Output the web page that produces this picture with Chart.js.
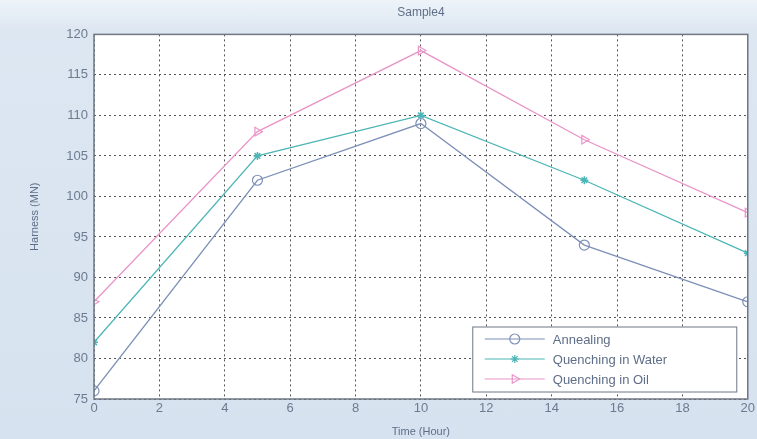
<!DOCTYPE html>
<html>
<head>
<meta charset="utf-8">
<script src="https://cdn.jsdelivr.net/npm/chart.js@4"></script>
<style>
  html, body { margin: 0; padding: 0; }
  body { width: 757px; height: 439px; background: linear-gradient(#eef3f9 0px, #dde7f2 30px, #d6e2ef 439px); }
  #wrap { position: relative; width: 757px; height: 439px; }
</style>
</head>
<body>
<div id="wrap"><canvas id="hardnessChart" width="757" height="439"></canvas></div>
<script>
const timeHours = [0, 5, 10, 15, 20];
const annealing = [76, 102, 109, 94, 87];
const quenchWater = [82, 105, 110, 102, 93];
const quenchOil = [87, 108, 118, 107, 98];
const seriesNames = ["Annealing", "Quenching in Water", "Quenching in Oil"];

const colAnneal = "#7d90b8";
const colWater = "#4db5b5";
const colOil = "#e995c8";
const textCol = "#5f6e88";
const fontFam = "'Liberation Sans', Arial, sans-serif";

function toPoints(vals) {
  return vals.map((v, i) => ({ x: timeHours[i], y: v }));
}

// fondo blanco del area de trazado + marco
const plotBg = {
  id: "plotBg",
  beforeDraw(chart) {
    const { ctx, chartArea: a } = chart;
    ctx.save();
    ctx.fillStyle = "#ffffff";
    ctx.fillRect(a.left, a.top, a.right - a.left, a.bottom - a.top);
    ctx.restore();
  },
  afterDatasetsDraw(chart) {
    const { ctx, chartArea: a } = chart;
    ctx.save();
    ctx.strokeStyle = "#6f7784";
    ctx.lineWidth = 1.5;
    ctx.strokeRect(a.left, a.top, a.right - a.left, a.bottom - a.top);
    ctx.restore();
  }
};

// leyenda dentro del grafico, abajo a la derecha
const insideLegend = {
  id: "insideLegend",
  afterDraw(chart) {
    const { ctx, chartArea: a } = chart;
    const w = 264, h = 65;
    const x0 = a.right - 11 - w;
    const y0 = a.bottom - 7 - h;
    ctx.save();
    ctx.fillStyle = "#ffffff";
    ctx.fillRect(x0, y0, w, h);
    ctx.strokeStyle = "#6f7784";
    ctx.lineWidth = 1;
    ctx.strokeRect(x0, y0, w, h);
    ctx.font = "13px " + fontFam;
    ctx.textBaseline = "middle";
    chart.data.datasets.forEach((ds, i) => {
      const yy = y0 + 12 + i * 20;
      ctx.strokeStyle = ds.borderColor;
      ctx.lineWidth = 1.2;
      ctx.beginPath();
      ctx.moveTo(x0 + 12, yy);
      ctx.lineTo(x0 + 72, yy);
      ctx.stroke();
      ctx.fillStyle = ds.pointBackgroundColor;
      ctx.strokeStyle = ds.pointBorderColor;
      Chart.helpers.drawPoint(ctx, {
        pointStyle: ds.pointStyle,
        radius: ds.pointRadius,
        rotation: ds.pointRotation || 0,
        borderWidth: 1.2
      }, x0 + 42, yy);
      ctx.fillStyle = textCol;
      ctx.fillText(ds.label, x0 + 80, yy + 1);
    });
    ctx.restore();
  }
};

const ctx = document.getElementById("hardnessChart").getContext("2d");
new Chart(ctx, {
  type: "line",
  data: {
    datasets: [
      {
        label: seriesNames[0],
        data: toPoints(annealing),
        borderColor: colAnneal,
        backgroundColor: "rgba(0,0,0,0)",
        borderWidth: 1.3,
        pointStyle: "circle",
        pointRadius: 5,
        pointBorderColor: colAnneal,
        pointBackgroundColor: "rgba(0,0,0,0)",
        pointBorderWidth: 1.2
      },
      {
        label: seriesNames[1],
        data: toPoints(quenchWater),
        borderColor: colWater,
        backgroundColor: "rgba(0,0,0,0)",
        borderWidth: 1.3,
        pointStyle: "star",
        pointRadius: 4,
        pointBorderColor: colWater,
        pointBackgroundColor: colWater,
        pointBorderWidth: 1.5
      },
      {
        label: seriesNames[2],
        data: toPoints(quenchOil),
        borderColor: colOil,
        backgroundColor: "rgba(0,0,0,0)",
        borderWidth: 1.3,
        pointStyle: "triangle",
        pointRotation: 90,
        pointRadius: 5,
        pointBorderColor: colOil,
        pointBackgroundColor: "rgba(0,0,0,0)",
        pointBorderWidth: 1.2
      }
    ]
  },
  options: {
    responsive: false,
    animation: false,
    layout: { padding: { top: 0, right: 9, bottom: 0, left: 0 } },
    plugins: {
      legend: { display: false },
      tooltip: { enabled: false },
      title: {
        display: true,
        fullSize: false,
        text: "Sample4",
        color: textCol,
        font: { family: fontFam, size: 12, weight: "normal" },
        padding: { top: 5, bottom: 15 }
      }
    },
    scales: {
      x: {
        type: "linear",
        min: 0,
        max: 20,
        afterFit(axis) { axis.height = 40; },
        ticks: { stepSize: 2, color: "#6d7a90", font: { family: fontFam, size: 13 }, padding: 2 },
        grid: { color: "#555", lineWidth: 1, drawTicks: false },
        border: { display: false, dash: [2, 3] },
        title: { display: true, text: "Time (Hour)", color: textCol, font: { family: fontFam, size: 11 }, padding: { top: 0, bottom: 0 } }
      },
      y: {
        min: 75,
        max: 120,
        afterFit(axis) { axis.width = 94; },
        ticks: { stepSize: 5, color: "#6d7a90", font: { family: fontFam, size: 13 }, padding: 6 },
        grid: { color: "#555", lineWidth: 1, drawTicks: false },
        border: { display: false, dash: [2, 3] },
        title: { display: true, text: "Harness (MN)", color: textCol, font: { family: fontFam, size: 11 }, padding: { top: 28, bottom: 0 } }
      }
    }
  },
  plugins: [plotBg, insideLegend]
});
</script>
</body>
</html>
